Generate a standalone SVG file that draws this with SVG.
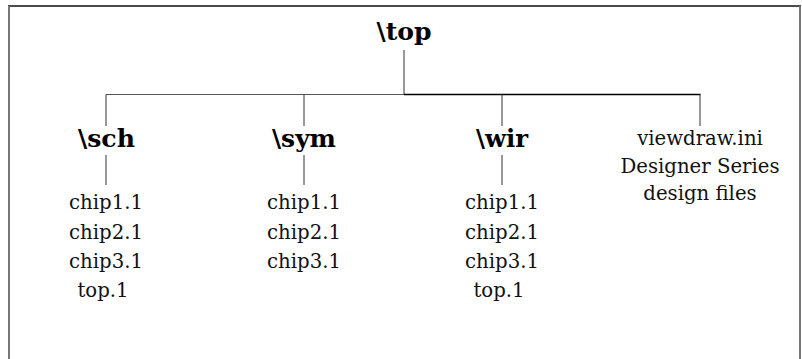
<svg xmlns="http://www.w3.org/2000/svg" width="802" height="359" viewBox="0 0 802 359">
<style>
.lbl{font-family:"DejaVu Serif","Liberation Serif",serif;font-size:19.7px;fill:#111;text-anchor:middle}
.dir{font-family:"DejaVu Serif","Liberation Serif",serif;font-size:24.5px;font-weight:bold;fill:#000;text-anchor:middle}
.ln{stroke:#333;stroke-width:1;fill:none}
</style>
<rect width="802" height="359" fill="#fff"/>
<g id="frame">
<line x1="8" y1="6" x2="801" y2="6" stroke="#111" stroke-width="1.5"/>
<line x1="9" y1="6" x2="9" y2="359" stroke="#777" stroke-width="2"/>
<line x1="800" y1="6" x2="800" y2="359" stroke="#777" stroke-width="2"/>
</g>
<g id="connectors">
<line class="ln" x1="404" y1="50" x2="404" y2="94.5"/>
<line x1="106" y1="94.5" x2="404" y2="94.5" stroke="#555" stroke-width="1"/>
<line x1="404" y1="94.5" x2="700.5" y2="94.5" stroke="#000" stroke-width="1.6"/>
<line class="ln" x1="106" y1="94.5" x2="106" y2="126"/>
<line class="ln" x1="304" y1="94.5" x2="304" y2="126"/>
<line class="ln" x1="502" y1="94.5" x2="502" y2="126"/>
<line class="ln" x1="700" y1="94.5" x2="700" y2="126"/>
<line class="ln" x1="106" y1="155" x2="106" y2="185"/>
<line class="ln" x1="304" y1="155" x2="304" y2="185"/>
<line class="ln" x1="502" y1="155" x2="502" y2="185"/>
</g>
<g id="top"><text class="dir" x="404" y="40" textLength="55" lengthAdjust="spacingAndGlyphs">\top</text></g>
<g id="sch">
<text class="dir" x="106.5" y="146.5" textLength="57" lengthAdjust="spacingAndGlyphs">\sch</text>
<text class="lbl" x="106" y="209">chip1.1</text>
<text class="lbl" x="106" y="238.5">chip2.1</text>
<text class="lbl" x="106" y="268">chip3.1</text>
<text class="lbl" x="103" y="297">top.1</text>
</g>
<g id="sym">
<text class="dir" x="304" y="146.5" textLength="64" lengthAdjust="spacingAndGlyphs">\sym</text>
<text class="lbl" x="304" y="209">chip1.1</text>
<text class="lbl" x="304" y="238.5">chip2.1</text>
<text class="lbl" x="304" y="268">chip3.1</text>
</g>
<g id="wir">
<text class="dir" x="502" y="146.5" textLength="52" lengthAdjust="spacingAndGlyphs">\wir</text>
<text class="lbl" x="502" y="209">chip1.1</text>
<text class="lbl" x="502" y="238.5">chip2.1</text>
<text class="lbl" x="502" y="268">chip3.1</text>
<text class="lbl" x="499" y="297">top.1</text>
</g>
<g id="files">
<text class="lbl" x="700" y="144.5">viewdraw.ini</text>
<text class="lbl" x="700" y="172.5">Designer Series</text>
<text class="lbl" x="700" y="200">design files</text>
</g>
</svg>
